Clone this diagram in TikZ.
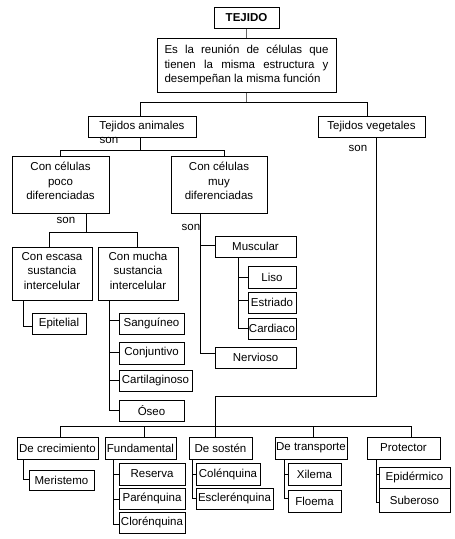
\documentclass[tikz,border=0pt]{standalone}
\usepackage{fontspec}
\setmainfont{Liberation Sans}
\newcommand\dpth[1]{\rule[-#1pt]{0pt}{#1pt}}
\begin{document}
\begin{tikzpicture}[x=1pt,y=-1pt,
 box/.style={draw, line width=1pt, inner sep=0pt, font=\fontsize{11.5}{14.5}\selectfont, align=center},
 sz/.style 2 args={minimum width=#1pt, minimum height=#2pt},
 conn/.style={line width=1pt},
 gconn/.style={line width=1.4pt, draw=black!60},
 lbl/.style={font=\fontsize{11.5}{13}\selectfont, inner sep=0pt}]
\useasboundingbox (0,0) rectangle (455,539);
\fill[white] (0,0) rectangle (455,539);

% nodes
\node[box, sz={65}{21}] (tejido) at (246.5,17.5) {\textbf{TEJIDO}};
\node[box, sz={179}{54}] (desc) at (246.5,65) {\parbox{164pt}{\makebox[164pt][s]{Es la reunión  de células que}\\\makebox[164pt][s]{tienen  la misma  estructura y}\\desempeñan la misma función}};
\node[box, sz={108}{21}] (anim) at (142,126.5) {Tejidos animales};
\node[box, sz={107}{21}] (veg) at (371.5,126.5) {Tejidos vegetales};
\node[box, sz={97}{57}] (poco) at (60.5,184.5) {Con células\\poco\\diferenciadas\dpth{7}};
\node[box, sz={96}{57}] (muy) at (219,184.5) {Con células\\muy\\diferenciadas\dpth{7}};
\node[box, sz={80}{53}] (escasa) at (52,273.5) {Con escasa\\sustancia\\intercelular\dpth{6}};
\node[box, sz={80}{53}] (mucha) at (138,273.5) {Con mucha\\sustancia\\intercelular\dpth{6}};
\node[box, sz={54}{21}] (epitelial) at (59,323.5) {Epitelial};
\node[box, sz={65}{21}] (sang) at (151.5,323.5) {Sanguíneo};
\node[box, sz={65}{22}] (conj) at (151.5,353) {Conjuntivo};
\node[box, sz={73}{21}] (cart) at (155.5,380.5) {Cartilaginoso};
\node[box, sz={65}{21}] (oseo) at (151.5,410.5) {Óseo};
\node[box, sz={81}{21}] (musc) at (255.5,246.5) {Muscular};
\node[box, sz={48}{22}] (liso) at (272,277) {Liso};
\node[box, sz={48}{21}] (estr) at (272,302.5) {Estriado};
\node[box, sz={48}{21}] (card) at (272,328.5) {Cardiaco};
\node[box, sz={81}{21}] (nerv) at (255.5,357.5) {Nervioso};
\node[box, sz={81}{22}] (crec) at (57.5,448) {De crecimiento};
\node[box, sz={71}{22}] (fund) at (140.5,448) {Fundamental};
\node[box, sz={63}{22}] (sost) at (220.5,448) {De sostén};
\node[box, sz={72}{22}] (trans) at (311,448) {De transporte};
\node[box, sz={73}{22}] (prot) at (403.5,448) {Protector};
\node[box, sz={65}{20}] (meri) at (61.5,480) {Meristemo};
\node[box, sz={66}{22}] (reserva) at (152,474) {Reserva};
\node[box, sz={66}{21}] (paren) at (152,498.5) {Parénquina};
\node[box, sz={66}{21}] (cloren) at (152,522.5) {Clorénquina};
\node[box, sz={64}{22}] (colen) at (228,474) {Colénquina};
\node[box, sz={77}{21}] (escler) at (234.5,498.5) {Esclerénquina};
\node[box, sz={53}{22}] (xilema) at (314.5,474) {Xilema};
\node[box, sz={53}{22}] (floema) at (314.5,501) {Floema};
\node[box, sz={71}{21}] (epid) at (414.5,477.5) {Epidérmico};
\node[box, sz={71}{24}] (suber) at (414.5,500) {Suberoso};

% labels
\node[lbl] (son1) at (109,140) {son};
\node[lbl] (son2) at (358,148) {son};
\node[lbl] (son3) at (66,220) {son};
\node[lbl] (son4) at (191,227) {son};

% top connectors
\draw[gconn] (tejido.south) -- (desc.north);
\coordinate (ja) at (140,102); \coordinate (jv) at (367,102);
\draw[gconn] (desc.south) -- (desc.south |- ja);
\draw[conn] (anim.north -| ja) -- (ja) -- (jv) -- (veg.north -| jv);

% animales
\coordinate (jp) at (60,150); \coordinate (jm) at (224,150);
\draw[conn] (anim.south -| ja) -- (ja |- jp);
\draw[conn] (poco.north -| jp) -- (jp) -- (jm) -- (muy.north -| jm);

% poco diferenciadas
\coordinate (je) at (49,232); \coordinate (jmu) at (137,232); \coordinate (tp) at (86,232);
\draw[conn] (poco.south -| tp) -- (tp);
\draw[conn] (escasa.north -| je) -- (je) -- (jmu) -- (mucha.north -| jmu);

% escasa -> epitelial
\coordinate (te) at (23,326);
\draw[conn] (escasa.south -| te) -- (te) -- (te -| epitelial.west);

% mucha -> children
\coordinate (tm) at (109,410);
\draw[conn] (mucha.south -| tm) -- (tm) -- (tm -| oseo.west);
\coordinate (b1) at (109,320); \coordinate (b2) at (109,352); \coordinate (b3) at (109,380);
\draw[conn] (b1) -- (b1 -| sang.west);
\draw[conn] (b2) -- (b2 -| conj.west);
\draw[conn] (b3) -- (b3 -| cart.west);

% muy -> muscular, nervioso
\coordinate (tmy) at (200,353); \coordinate (b4) at (200,245);
\draw[conn] (muy.south -| tmy) -- (tmy) -- (tmy -| nerv.west);
\draw[conn] (b4) -- (b4 -| musc.west);

% muscular -> children
\coordinate (tmu) at (238,328); \coordinate (b5) at (238,277); \coordinate (b6) at (238,300);
\draw[conn] (musc.south -| tmu) -- (tmu) -- (tmu -| card.west);
\draw[conn] (b5) -- (b5 -| liso.west);
\draw[conn] (b6) -- (b6 -| estr.west);

% vegetales
\coordinate (v1) at (376,396); \coordinate (v2) at (215,396); \coordinate (v3) at (215,426);
\coordinate (hl) at (60,426); \coordinate (hr) at (411,426);
\draw[conn] (veg.south -| v1) -- (v1) -- (v2) -- (v3);
\draw[conn] (crec.north -| hl) -- (hl) -- (hr) -- (prot.north -| hr);
\coordinate (d2) at (144,426); \coordinate (d4) at (313,426);
\draw[conn] (d2) -- (fund.north -| d2);
\draw[conn] (v3) -- (sost.north -| v3);
\draw[conn] (d4) -- (trans.north -| d4);

% crecimiento
\coordinate (tc) at (23,479);
\draw[conn] (crec.south -| tc) -- (tc) -- (tc -| meri.west);

% fundamental
\coordinate (tf) at (113,524); \coordinate (f1) at (113,474); \coordinate (f2) at (113,499);
\draw[conn] (fund.south -| tf) -- (tf) -- (tf -| cloren.west);
\draw[conn] (f1) -- (f1 -| reserva.west);
\draw[conn] (f2) -- (f2 -| paren.west);

% sosten
\coordinate (ts) at (192,498); \coordinate (s1) at (192,474);
\draw[conn] (sost.south -| ts) -- (ts) -- (ts -| escler.west);
\draw[conn] (s1) -- (s1 -| colen.west);

% transporte
\coordinate (tt) at (284,498); \coordinate (t1) at (284,474);
\draw[conn] (trans.south -| tt) -- (tt) -- (tt -| floema.west);
\draw[conn] (t1) -- (t1 -| xilema.west);

% protector
\coordinate (tpr) at (376,502); \coordinate (p1) at (376,474);
\draw[conn] (prot.south -| tpr) -- (tpr) -- (tpr -| suber.west);
\draw[conn] (p1) -- (p1 -| epid.west);
\end{tikzpicture}
\end{document}
